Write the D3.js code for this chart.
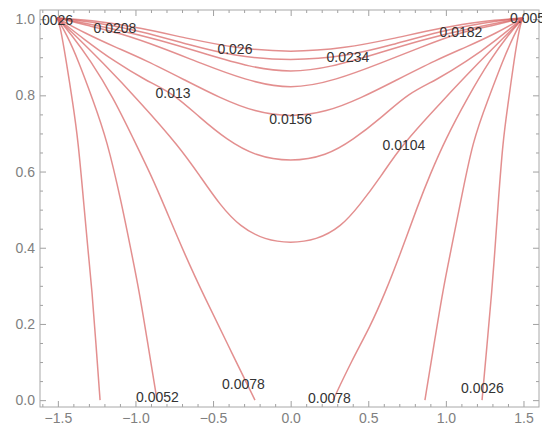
<!DOCTYPE html>
<html>
<head>
<meta charset="utf-8">
<script src="https://cdn.jsdelivr.net/npm/d3@7"></script>
<style>
  body { margin: 0; background: #fff; }
  .axis text { font-family: "Liberation Sans", Arial, sans-serif; font-size: 14px; fill: #808080; }
  .axis line { stroke: #a0a0a0; }
  .axis path { display: none; }
  .clabel { font-family: "Liberation Sans", Arial, sans-serif; font-size: 14px; fill: #333; }
</style>
</head>
<body>
<div id="chart"></div>
<script>
// contour lines, [x, y]
// lines going down to y = 0
const c0026L = [[-1.505,1.003],[-1.486,0.985],[-1.447,0.893],[-1.402,0.775],[-1.370,0.683],[-1.332,0.512],[-1.306,0.394],[-1.280,0.289],[-1.254,0.145],[-1.228,0.0]];
const c0052L = [[-1.505,1.003],[-1.441,0.958],[-1.370,0.893],[-1.274,0.788],[-1.183,0.683],[-1.087,0.512],[-1.029,0.394],[-0.977,0.289],[-0.919,0.145],[-0.861,0.0]];
const c0078L = [[-1.505,1.003],[-1.409,0.958],[-1.293,0.893],[-1.145,0.796],[-1.010,0.683],[-0.900,0.591],[-0.816,0.512],[-0.681,0.381],[-0.552,0.268],[-0.404,0.145],[-0.230,0.0]];
const c0078R = [[1.497,1.003],[1.400,0.958],[1.284,0.893],[1.142,0.796],[0.995,0.683],[0.897,0.591],[0.820,0.512],[0.704,0.381],[0.608,0.281],[0.511,0.192],[0.395,0.105],[0.273,0.0]];
const c0052R = [[1.497,1.003],[1.439,0.958],[1.368,0.893],[1.271,0.788],[1.174,0.683],[1.091,0.512],[1.033,0.394],[0.981,0.289],[0.923,0.145],[0.865,0.0]];
const c0026R = [[1.497,1.003],[1.477,0.985],[1.439,0.893],[1.400,0.775],[1.368,0.683],[1.336,0.512],[1.316,0.394],[1.297,0.289],[1.265,0.145],[1.233,0.0]];
// U shaped lines from corner to corner
const c0104 = [[-1.505,1.003],[-1.357,0.945],[-1.228,0.893],[-0.971,0.783],[-0.715,0.664],[-0.584,0.588],[-0.455,0.512],[-0.326,0.455],[-0.165,0.420],[0,0.412],[0.165,0.420],[0.326,0.455],[0.445,0.512],[0.584,0.588],[0.704,0.664],[0.971,0.783],[1.228,0.893],[1.357,0.945],[1.497,1.003]];
const c0130 = [[-1.505,1.003],[-1.325,0.945],[-1.132,0.888],[-0.938,0.840],[-0.758,0.806],[-0.584,0.741],[-0.410,0.683],[-0.230,0.641],[0,0.625],[0.230,0.641],[0.401,0.683],[0.584,0.741],[0.758,0.806],[0.938,0.840],[1.132,0.888],[1.325,0.945],[1.497,1.003]];
const c0156 = [[-1.505,1.003],[-1.325,0.963],[-1.132,0.927],[-0.938,0.893],[-0.681,0.840],[-0.455,0.793],[-0.230,0.756],[0,0.743],[0.230,0.756],[0.455,0.793],[0.681,0.840],[0.938,0.893],[1.132,0.927],[1.325,0.963],[1.497,1.003]];
const c0182 = [[-1.505,1.003],[-1.293,0.982],[-1.106,0.964],[-0.842,0.927],[-0.584,0.885],[-0.294,0.840],[0,0.814],[0.294,0.840],[0.584,0.885],[0.842,0.927],[1.097,0.966],[1.293,0.982],[1.497,1.003]];
const c0208 = [[-1.505,1.003],[-1.132,0.974],[-0.842,0.945],[-0.552,0.909],[-0.262,0.874],[0,0.859],[0.262,0.874],[0.552,0.909],[0.842,0.945],[1.132,0.974],[1.497,1.003]];
const c0234 = [[-1.505,1.003],[-1.228,0.990],[-0.971,0.969],[-0.649,0.932],[-0.372,0.903],[0,0.890],[0.369,0.903],[0.649,0.932],[0.971,0.969],[1.228,0.990],[1.497,1.003]];
const c0260 = [[-1.505,1.003],[-1.228,0.995],[-0.971,0.977],[-0.649,0.948],[-0.359,0.924],[0,0.912],[0.359,0.924],[0.649,0.948],[0.971,0.977],[1.228,0.995],[1.497,1.003]];

const contours = [c0026L, c0052L, c0078L, c0078R, c0052R, c0026R, c0104, c0130, c0156, c0182, c0208, c0234, c0260];

// contour labels: text, x, y
const labelText = ["0.0026", "0.0208", "0.026", "0.0234", "0.0182", "0.0052", "0.013", "0.0156", "0.0104", "0.0052", "0.0078", "0.0078", "0.0026"];
const labelX = [-1.540, -1.132, -0.359, 0.369, 1.097, 1.551, -0.758, 0, 0.730, -0.858, -0.304, 0.250, 1.236];
const labelY = [0.998, 0.977, 0.922, 0.901, 0.966, 1.003, 0.806, 0.738, 0.670, 0.008, 0.042, 0.006, 0.032];

const xMajor = [-1.5, -1.0, -0.5, 0.0, 0.5, 1.0, 1.5];
const yMajor = [0.0, 0.2, 0.4, 0.6, 0.8, 1.0];

var W = 542, H = 425;
var mLeft = 40, mRight = 539, mTop = 10, mBottom = 407;

var svg = d3.select("#chart").append("svg").attr("width", W).attr("height", H);

var x = d3.scaleLinear().domain([-1.615, 1.60]).range([mLeft, mRight]);
var y = d3.scaleLinear().domain([-0.018, 1.024]).range([mBottom, mTop]);

var xMinor = d3.range(-16, 17).map(function (i) { return i / 10; }).filter(function (v) { return xMajor.indexOf(v) < 0 && v > -1.615 && v < 1.6; });
var yMinor = d3.range(0, 21).map(function (i) { return i / 20; }).filter(function (v) { return Math.abs(v * 5 - Math.round(v * 5)) > 1e-6; });

var fmt = d3.format(".1f");

// major + minor ticks, all four sides
svg.append("g").attr("class", "axis").attr("transform", "translate(0," + mBottom + ")")
  .call(d3.axisBottom(x).tickValues(xMajor).tickFormat(fmt).tickSizeInner(-6).tickSizeOuter(0).tickPadding(6));
svg.append("g").attr("class", "axis").attr("transform", "translate(0," + mBottom + ")")
  .call(d3.axisBottom(x).tickValues(xMinor).tickFormat("").tickSizeInner(-3).tickSizeOuter(0));
svg.append("g").attr("class", "axis").attr("transform", "translate(0," + mTop + ")")
  .call(d3.axisTop(x).tickValues(xMajor).tickFormat("").tickSizeInner(-6).tickSizeOuter(0));
svg.append("g").attr("class", "axis").attr("transform", "translate(0," + mTop + ")")
  .call(d3.axisTop(x).tickValues(xMinor).tickFormat("").tickSizeInner(-3).tickSizeOuter(0));

svg.append("g").attr("class", "axis").attr("transform", "translate(" + mLeft + ",0)")
  .call(d3.axisLeft(y).tickValues(yMajor).tickFormat(fmt).tickSizeInner(-6).tickSizeOuter(0).tickPadding(5));
svg.append("g").attr("class", "axis").attr("transform", "translate(" + mLeft + ",0)")
  .call(d3.axisLeft(y).tickValues(yMinor).tickFormat("").tickSizeInner(-3).tickSizeOuter(0));
svg.append("g").attr("class", "axis").attr("transform", "translate(" + mRight + ",0)")
  .call(d3.axisRight(y).tickValues(yMajor).tickFormat("").tickSizeInner(-6).tickSizeOuter(0));
svg.append("g").attr("class", "axis").attr("transform", "translate(" + mRight + ",0)")
  .call(d3.axisRight(y).tickValues(yMinor).tickFormat("").tickSizeInner(-3).tickSizeOuter(0));

// frame
svg.append("rect")
  .attr("x", mLeft).attr("y", mTop)
  .attr("width", mRight - mLeft).attr("height", mBottom - mTop)
  .attr("fill", "none").attr("stroke", "#a8a8a8").attr("stroke-width", 1);

svg.append("clipPath").attr("id", "plot")
  .append("rect").attr("x", mLeft).attr("y", mTop).attr("width", mRight - mLeft).attr("height", mBottom - mTop);
svg.append("clipPath").attr("id", "labs")
  .append("rect").attr("x", mLeft).attr("y", 0).attr("width", W - mLeft).attr("height", H);

// basis smooths the hand-read points
var line = d3.line()
  .x(function (d) { return x(d[0]); })
  .y(function (d) { return y(d[1]); })
  .curve(d3.curveBasis);

svg.append("g").attr("clip-path", "url(#plot)")
  .selectAll("path")
  .data(contours)
  .enter()
  .append("path")
  .attr("d", line)
  .attr("fill", "none")
  .attr("stroke", "rgb(215,95,95)")
  .attr("stroke-opacity", 0.7)
  .attr("stroke-width", 1.5);

svg.append("g").attr("clip-path", "url(#labs)")
  .selectAll("text")
  .data(labelText)
  .enter()
  .append("text")
  .attr("class", "clabel")
  .attr("x", function (d, i) { return x(labelX[i]); })
  .attr("y", function (d, i) { return y(labelY[i]); })
  .attr("text-anchor", "middle")
  .attr("dominant-baseline", "central")
  .text(function (d) { return d; });
</script>
</body>
</html>
